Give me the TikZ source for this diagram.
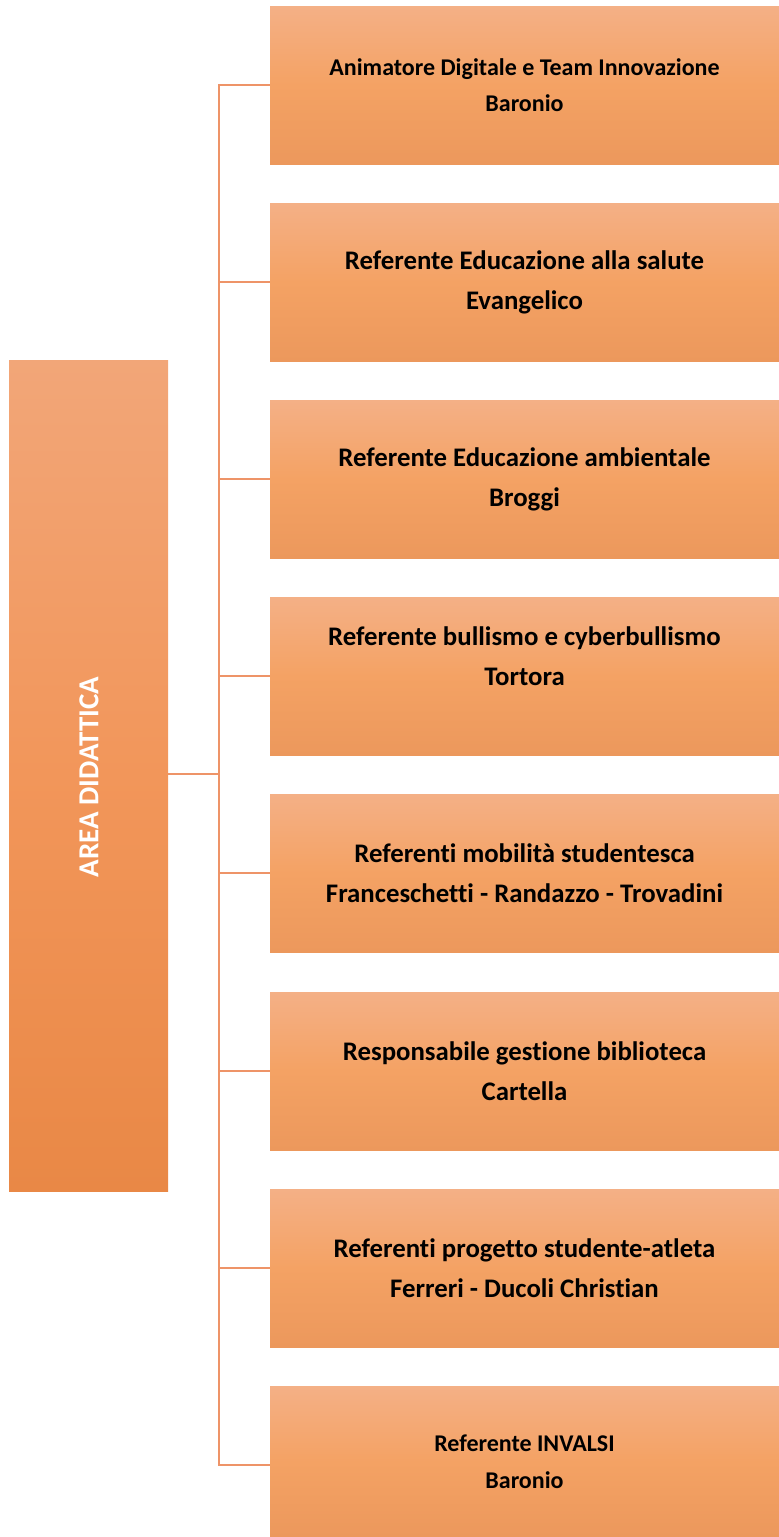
\documentclass[tikz,border=0pt]{standalone}
\usepackage{fontspec}
\setmainfont{Carlito}[Ligatures=NoCommon]
\definecolor{boxtop}{RGB}{244,176,134}
\definecolor{boxmid}{RGB}{244,162,100}
\definecolor{boxbot}{RGB}{236,152,92}
\definecolor{ltop}{RGB}{242,166,120}
\definecolor{lmid}{RGB}{242,150,90}
\definecolor{lbot}{RGB}{233,136,70}
\definecolor{linkc}{RGB}{238,148,104}
\tikzset{
  rbox/.style={rectangle, minimum width=509pt, minimum height=158pt, inner sep=0pt,
    top color=boxtop, bottom color=boxbot, middle color=boxmid, align=center,
    font=\bfseries\fontsize{26.8}{40}\selectfont, text=black},
  rboxs/.style={rbox, font=\bfseries\fontsize{24}{36.5}\selectfont},
  lbox/.style={rectangle, minimum width=159pt, minimum height=831pt, inner sep=0pt,
    top color=ltop, bottom color=lbot, middle color=lmid},
  link/.style={draw=linkc, line width=1.3pt}
}
\begin{document}
\begin{tikzpicture}[x=1pt,y=-1pt]
\useasboundingbox (0,0) rectangle (779,1537);
\node[lbox] (L) at (88.5,775.5) {};
\node[rotate=90, text=white, font=\bfseries\fontsize{29}{32}\selectfont] (Lt) at (89,777) {AREA DIDATTICA};
\node[rboxs] (r1) at (524.5,85) {Animatore Digitale e Team Innovazione\\Baronio};
\node[rbox] (r2) at (524.5,282) {Referente Educazione alla salute\\Evangelico};
\node[rbox] (r3) at (524.5,479) {Referente Educazione ambientale\\Broggi};
\node[rbox] (r4) at (524.5,676) {Referente bullismo e cyberbullismo\\Tortora\\\mbox{}};
\node[rbox] (r5) at (524.5,873) {Referenti mobilità studentesca\\Franceschetti - Randazzo - Trovadini};
\node[rbox] (r6) at (524.5,1071) {Responsabile gestione biblioteca\\Cartella};
\node[rbox] (r7) at (524.5,1268) {Referenti progetto studente-atleta\\Ferreri - Ducoli Christian};
\node[rboxs, minimum height=151pt] (r8) at (524.5,1461.5) {Referente INVALSI\\Baronio};
\coordinate (t) at (219,774);
\draw[link] (L.east |- t) -- (t);
\foreach \i in {1,...,7}{
  \draw[link] (t) |- (r\i.west);
}
\draw[link] (t) |- ([yshift=-3.5pt]r8.west);
\end{tikzpicture}
\end{document}
